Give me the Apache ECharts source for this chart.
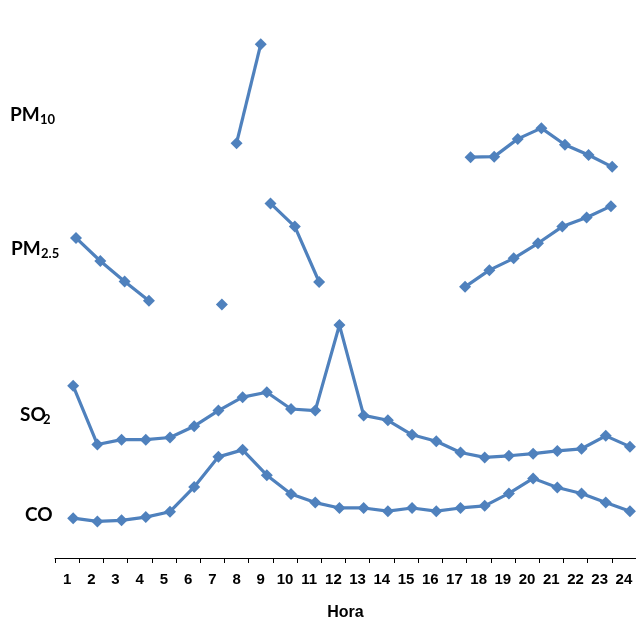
<!DOCTYPE html>
<html>
<head>
<meta charset="utf-8">
<script src="https://cdn.jsdelivr.net/npm/echarts@6/dist/echarts.min.js"></script>
<style>html,body{margin:0;padding:0;background:#fff}#c{width:636px;height:626px}</style>
</head>
<body>
<div id="c"></div>
<script>
// Tick labels (hours)
const hours = [1,2,3,4,5,6,7,8,9,10,11,12,13,14,15,16,17,18,19,20,21,22,23,24];
// Relative levels (no visible y scale in the original)
const pm10 = [null,null,null,null,null,null,null,77.1,95.5,null,null,null,null,null,null,null,null,74.5,74.6,77.9,79.9,76.8,74.9,72.7];
const pm25 = [59.5,55.2,51.4,47.8,null,null,47.1,null,65.9,61.6,51.3,null,null,null,null,null,50.4,53.5,55.7,58.5,61.6,63.3,65.4,null];
const so2  = [32.0,21.1,22.0,22.0,22.4,24.5,27.4,29.9,30.8,27.7,27.4,43.3,26.5,25.6,22.9,21.7,19.6,18.7,19.0,19.4,19.9,20.3,22.7,20.7];
const co   = [7.4,6.8,7.0,7.6,8.6,13.2,18.8,20.1,15.4,11.9,10.3,9.3,9.3,8.7,9.3,8.7,9.3,9.7,12.0,14.8,13.1,12.0,10.3,8.7];

const BLUE = '#4F81BD';
const pairs = (arr, from, to) => hours.filter(h => h >= from && h <= to).map(h => [h, arr[h-1]]);

function lineSeries(name, data, xi) {
  return {
    name, type: 'line', xAxisIndex: xi, yAxisIndex: 0, data,
    connectNulls: false, showSymbol: true, showAllSymbol: true,
    symbol: 'diamond', symbolSize: 12,
    lineStyle: { color: BLUE, width: 3.2 },
    itemStyle: { color: BLUE },
    emphasis: { disabled: true }, silent: true
  };
}
function hiddenX(min, max) {
  return { type: 'value', gridIndex: 0, min, max, show: false };
}

const chart = echarts.init(document.getElementById('c'), null, { renderer: 'canvas' });
chart.setOption({
  animation: false,
  backgroundColor: '#fff',
  grid: { left: 55, right: 0, top: 20, bottom: 64 },
  xAxis: [
    {
      type: 'category', data: hours.map(String), boundaryGap: true,
      name: 'Hora', nameLocation: 'middle', nameGap: 47,
      nameTextStyle: { fontFamily: 'Liberation Sans', fontWeight: 'bold', fontSize: 16, color: '#000' },
      axisLine: { lineStyle: { color: '#000', width: 1 } },
      axisTick: { show: true, length: 5, lineStyle: { color: '#000' } },
      axisLabel: { fontFamily: 'Liberation Sans', fontWeight: 'bold', fontSize: 15, color: '#000', margin: 14, interval: 0 },
      splitLine: { show: false }
    },
    hiddenX(0.25, 24.25),
    hiddenX(0.5, 24.5),
    hiddenX(0.137, 24.03),
    hiddenX(0.39, 25.01)
  ],
  yAxis: [{ type: 'value', min: 0, max: 100, show: false }],
  series: [
    lineSeries('CO', pairs(co, 1, 24), 1),
    lineSeries('SO2', pairs(so2, 1, 24), 1),
    lineSeries('PM2.5', pairs(pm25, 1, 24), 3),
    lineSeries('PM10 a', pairs(pm10, 1, 12), 2),
    lineSeries('PM10 b', pairs(pm10, 13, 24), 4)
  ],
  graphic: [
    { type: 'text', x: 10, y: 115, style: { text: 'PM', font: 'bold 19px Lato', fill: '#000', verticalAlign: 'middle' } },
    { type: 'text', x: 40, y: 120, style: { text: '10', font: 'bold 13px Lato', fill: '#000', verticalAlign: 'middle' } },
    { type: 'text', x: 11, y: 249, style: { text: 'PM', font: 'bold 19px Lato', fill: '#000', verticalAlign: 'middle' } },
    { type: 'text', x: 41, y: 254, style: { text: '2.5', font: 'bold 13px Lato', fill: '#000', verticalAlign: 'middle' } },
    { type: 'text', x: 20, y: 415, style: { text: 'SO', font: 'bold 19px Lato', fill: '#000', verticalAlign: 'middle' } },
    { type: 'text', x: 43, y: 420, style: { text: '2', font: 'bold 13px Lato', fill: '#000', verticalAlign: 'middle' } },
    { type: 'text', x: 25, y: 515, style: { text: 'CO', font: 'bold 19px Lato', fill: '#000', verticalAlign: 'middle' } }
  ]
});
</script>
</body>
</html>
